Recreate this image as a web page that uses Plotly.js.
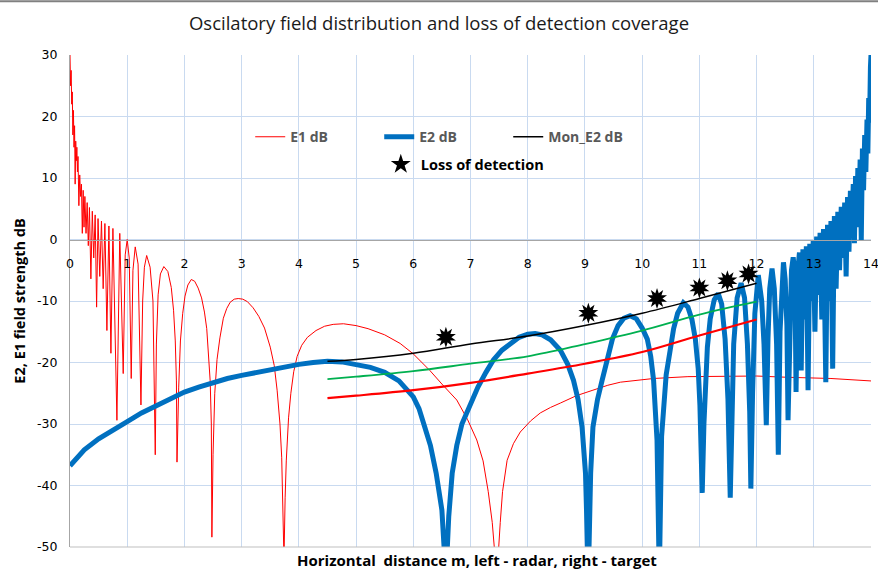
<!DOCTYPE html>
<html>
<head>
<meta charset="utf-8">
<script src="https://cdn.plot.ly/plotly-3.0.1.min.js"></script>
<style>html,body{margin:0;padding:0;background:#fff;}#chart{width:878px;height:569px;}</style>
</head>
<body>
<div id="chart"></div>
<script>
// ---- E1 dB (thin red) ----
const e1X = [0.00,0.01,0.02,0.03,0.04,0.05,0.06,0.07,0.08,0.09,0.10,0.11,0.12,0.13,0.14,0.155,0.17,0.185,0.20,0.215,0.23,0.245,0.26,0.28,0.30,0.32,0.34,0.365,0.39,0.415,0.44,0.465,0.49,0.52,0.55,0.58,0.61,0.645,0.68,0.715,0.75,0.785,0.82,0.87,0.93,0.965,1.00,1.035,1.07,1.10,1.14,1.19,1.24,1.27,1.30,1.34,1.40,1.45,1.49,1.51,1.54,1.58,1.64,1.71,1.77,1.81,1.84,1.86,1.87,1.90,1.93,1.97,2.01,2.06,2.12,2.18,2.24,2.30,2.35,2.39,2.42,2.45,2.47,2.48,2.50,2.53,2.57,2.62,2.68,2.74,2.80,2.87,2.94,3.02,3.10,3.20,3.30,3.40,3.50,3.57,3.62,3.67,3.70,3.72,3.74,3.76,3.78,3.82,3.86,3.91,3.97,4.05,4.15,4.30,4.45,4.60,4.78,5.00,5.21,5.50,5.77,6.00,6.29,6.50,6.76,6.95,7.11,7.22,7.31,7.38,7.46,7.52,7.56,7.64,7.75,7.87,8.05,8.22,8.40,8.57,8.85,9.14,9.40,9.62,9.90,10.20,10.80,11.36,12.00,12.53,13.30,14.00];
const e1Y = [30.0,25.0,27.5,22.0,24.0,17.0,21.0,15.0,18.5,9.0,16.0,12.8,15.0,11.0,13.5,5.5,10.5,7.0,9.0,1.0,8.0,2.0,7.0,1.0,6.0,-1.0,5.2,-6.4,4.6,-3.0,4.0,-11.0,3.4,-6.0,3.0,-8.0,2.6,-14.8,2.2,-18.5,1.8,-13.6,-29.4,1.0,-21.8,-2.5,0.0,-3.0,-22.6,-5.0,-1.2,-4.0,-26.9,-10.0,-4.5,-2.6,-4.5,-10.0,-35.0,-17.0,-9.0,-5.6,-4.4,-5.2,-7.8,-11.5,-16.5,-23.0,-36.2,-24.0,-16.5,-12.0,-9.2,-7.4,-6.5,-6.8,-7.9,-9.5,-11.8,-14.5,-18.0,-23.0,-30.0,-48.4,-35.0,-25.0,-19.5,-16.0,-12.8,-11.2,-10.2,-9.7,-9.6,-9.7,-10.1,-11.1,-12.5,-14.4,-17.5,-20.5,-24.5,-30.0,-35.4,-42.0,-52.0,-42.0,-36.0,-29.0,-25.0,-21.5,-19.0,-17.2,-15.9,-14.8,-14.1,-13.8,-13.7,-14.0,-14.5,-15.5,-16.9,-18.6,-21.3,-23.5,-26.1,-29.3,-32.6,-36.0,-41.0,-46.0,-55.0,-46.0,-41.0,-35.9,-33.2,-31.3,-29.5,-28.2,-27.3,-26.6,-25.4,-24.5,-23.7,-23.2,-22.9,-22.6,-22.3,-22.2,-22.2,-22.4,-22.6,-23.0];

// ---- E2 dB (thick blue) ----
const e2X = [0.0,0.1,0.25,0.5,0.75,1.0,1.25,1.5,1.75,2.0,2.25,2.5,2.75,3.0,3.25,3.5,3.75,4.0,4.25,4.5,4.75,5.0,5.25,5.5,5.75,6.0,6.1,6.2,6.3,6.4,6.5,6.57,6.62,6.68,6.76,6.85,7.0,7.13,7.27,7.4,7.55,7.69,7.85,8.0,8.13,8.25,8.4,8.57,8.7,8.8,8.88,8.95,9.01,9.06,9.1,9.14,9.22,9.3,9.39,9.48,9.58,9.68,9.79,9.9,10.0,10.09,10.15,10.2,10.26,10.3,10.34,10.37,10.42,10.49,10.55,10.62,10.72,10.8,10.87,10.93,10.98,11.01,11.05,11.08,11.1,11.14,11.19,11.26,11.33,11.39,11.45,11.5,11.54,11.57,11.6,11.66,11.73,11.79,11.84,11.88,11.9,11.93,11.97,12.03,12.09,12.13,12.17,12.2,12.23,12.27,12.31,12.35,12.38,12.41,12.44,12.47,12.5,12.53,12.55,12.58,12.61,12.64,12.67,12.69,12.72,12.75,12.78,12.81,12.84,12.87,12.90,12.93,12.96,12.99,13.02,13.05,13.08,13.11,13.14,13.17,13.21,13.24,13.27,13.30,13.33,13.36,13.39,13.42,13.45,13.48,13.51,13.54,13.565,13.59,13.615,13.64,13.665,13.69,13.71,13.73,13.75,13.77,13.79,13.81,13.83,13.85,13.87,13.89,13.91,13.93,13.945,13.96,13.975,13.99,14.0];
const e2Y = [-36.8,-35.7,-34.2,-32.4,-30.9,-29.6,-28.2,-27.0,-25.9,-24.8,-24.0,-23.2,-22.6,-22.1,-21.6,-21.1,-20.7,-20.3,-20.0,-19.8,-19.9,-20.3,-20.8,-21.6,-23.0,-25.6,-27.5,-30.5,-33.5,-38.0,-44.0,-55.0,-45.0,-38.0,-33.5,-30.0,-26.5,-24.0,-21.6,-19.6,-18.0,-16.9,-15.9,-15.4,-15.3,-15.5,-16.3,-18.0,-20.3,-22.9,-26.0,-30.5,-38.0,-55.0,-38.0,-30.5,-26.0,-22.9,-19.3,-16.2,-14.0,-12.8,-12.4,-12.9,-14.4,-16.2,-19.0,-22.9,-32.6,-55.0,-32.0,-27.0,-22.0,-18.0,-14.5,-12.0,-10.3,-11.0,-13.0,-16.2,-21.0,-27.0,-41.2,-30.0,-24.0,-17.5,-12.9,-9.8,-8.8,-10.5,-16.2,-26.0,-42.0,-26.0,-17.0,-9.5,-7.1,-9.5,-17.0,-28.0,-40.5,-25.0,-12.0,-5.8,-10.0,-17.0,-30.2,-16.0,-8.0,-4.7,-8.0,-17.0,-35.0,-15.0,-6.5,-3.7,-6.5,-14.0,-29.4,-12.0,-5.0,-2.9,-6.0,-24.8,-5.0,-2.1,-21.3,-1.6,-13.0,-1.1,-24.5,-0.7,-10.0,-0.2,-15.0,0.5,-9.0,1.1,-13.0,1.7,-23.2,2.4,-10.0,3.0,-21.0,3.8,-8.0,4.5,-5.0,5.3,-3.0,6.0,-6.0,6.9,-2.0,7.9,1.0,9.0,-0.6,10.3,2.0,11.6,4.0,13.0,-0.2,14.8,8.0,17.0,11.0,19.5,14.0,23.0,19.0,28.0,30.0];

// ---- Mon_E2 dB (black) and two threshold lines ----
const monX = [4.5,5,6,7,8,9,10,11,12];
const monY = [-19.8,-19.5,-18.5,-17.0,-15.7,-14.0,-12.0,-9.6,-7.1];
const greenY = [-22.7,-22.3,-21.4,-20.2,-19.0,-17.0,-14.8,-12.2,-10.1];
const redY = [-25.8,-25.4,-24.5,-23.3,-21.8,-20.2,-18.3,-15.6,-13.0];

// ---- Loss of detection ----
const lossX = [6.57,9.06,10.26,11.0,11.49,11.86];
const lossY = [-15.9,-12.0,-9.6,-7.9,-6.7,-5.6];

// ---- tick labels ----
const yTickVals = [-50,-40,-30,-20,-10,0,10,20,30];
const yTickText = ['-50','-40','-30','-20','-10','0','10','20','30'];

const FONT = "Open Sans, Liberation Sans, sans-serif";

const traces = [
  {x:e1X, y:e1Y, mode:'lines', name:'E1 dB', line:{color:'#FF0000', width:1}, legend:'legend'},
  {x:e2X, y:e2Y, mode:'lines', name:'E2 dB', line:{color:'#0070C0', width:5}, legend:'legend'},
  {x:monX, y:monY, mode:'lines', name:'Mon_E2 dB', line:{color:'#000000', width:1.5, shape:'spline'}, legend:'legend'},
  {x:monX, y:greenY, mode:'lines', name:'green', line:{color:'#00B050', width:1.8, shape:'spline'}, showlegend:false},
  {x:monX, y:redY, mode:'lines', name:'red', line:{color:'#FF0000', width:2.2, shape:'spline'}, showlegend:false},
  {x:lossX, y:lossY, mode:'markers', name:'Loss of detection', legend:'legend2',
   marker:{symbol:'star', size:15, color:'#000000', angle:0}},
  {x:lossX, y:lossY, mode:'markers', name:'Loss of detection b', showlegend:false,
   marker:{symbol:'star', size:15, color:'#000000', angle:36}}
];

const grid = '#C9DAF0';
const layout = {
  width:878, height:569,
  margin:{l:70, r:7, t:55, b:22},
  paper_bgcolor:'#ffffff', plot_bgcolor:'#ffffff',
  font:{family:FONT, color:'#000000'},
  title:{text:'Oscilatory field distribution and loss of detection coverage',
         xref:'container', x:0.5, xanchor:'center', yref:'container', y:0.958, yanchor:'middle',
         font:{family:FONT, size:18.5, color:'#1a1a1a'}},
  xaxis:{range:[0,14], dtick:1, tick0:0, anchor:'free', position:0.625,
         showgrid:true, gridcolor:grid, gridwidth:1, zeroline:false,
         showline:true, linecolor:'#A6A6A6', linewidth:1,
         ticks:'outside', ticklen:12, tickcolor:'rgba(0,0,0,0)',
         ticklabeloverflow:'allow',
         tickfont:{family:'DejaVu Sans, sans-serif', size:12.5, color:'#000'}},
  yaxis:{range:[-50,30], tickvals:yTickVals, ticktext:yTickText,
         showgrid:true, gridcolor:grid, gridwidth:1, zeroline:false,
         showline:true, linecolor:'#A6A6A6', linewidth:1,
         ticks:'outside', ticklen:9, tickcolor:'rgba(0,0,0,0)',
         tickfont:{family:'DejaVu Sans, sans-serif', size:12.5, color:'#000'},
         title:{text:'E2, E1 field strength dB', standoff:8,
                font:{family:FONT, size:14.5, color:'#000', weight:'bold'}}},
  showlegend:true,
  legend:{orientation:'h', x:0.225, xanchor:'left', y:0.833, yanchor:'middle',
          entrywidth:84, entrywidthmode:'pixels', bgcolor:'rgba(0,0,0,0)',
          font:{family:FONT, size:14, color:'#595959', weight:'bold'}},
  legend2:{orientation:'h', x:0.388, xanchor:'left', y:0.778, yanchor:'middle',
          bgcolor:'rgba(0,0,0,0)',
          font:{family:FONT, size:14.5, color:'#000000', weight:'bold'}},
  annotations:[{text:'Horizontal  distance m, left - radar, right - target', xref:'paper', yref:'paper',
                x:0.508, y:0, xanchor:'center', yanchor:'top', yshift:-1, showarrow:false,
                font:{family:FONT, size:15, color:'#000', weight:'bold'}}],
  shapes:[{type:'line', xref:'paper', yref:'paper', x0:0, x1:1, y0:0, y1:0, line:{color:'#BFBFBF', width:1}},
          {type:'line', xref:'paper', yref:'paper', x0:-0.1, x1:1.01, y0:1.109, y1:1.109, line:{color:'#808080', width:2}}]
};

Plotly.newPlot('chart', traces, layout, {displayModeBar:false, staticPlot:true});
</script>
</body>
</html>
